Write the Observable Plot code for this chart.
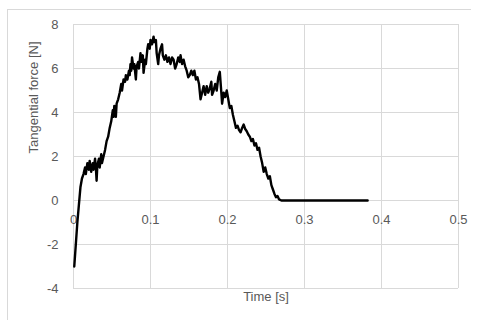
<!DOCTYPE html>
<html>
<head>
<meta charset="utf-8">
<script src="https://cdn.jsdelivr.net/npm/d3@7"></script>
<script src="https://cdn.jsdelivr.net/npm/@observablehq/plot@0.6"></script>
<style>
  body { margin: 0; background: #fff; }
  #wrap { position: relative; width: 477px; height: 320px; }
  #border { position: absolute; left: 7px; top: 9px; width: 463px; height: 320px;
            border-left: 1px solid #d9d9d9; border-top: 1px solid #d9d9d9; pointer-events: none; }
</style>
</head>
<body>
<div id="wrap"><div id="border"></div></div>
<script>
const xTicks = [0, 0.1, 0.2, 0.3, 0.4, 0.5];
const yTicks = [-4, -2, 0, 2, 4, 6, 8];
const xTitle = "Time [s]";
const yTitle = "Tangential force [N]";

const timeS = [
  0.001,0.003,0.005,0.007,0.009,0.011,0.013,0.015,0.016,0.018,0.020,0.021,0.023,0.025,0.026,0.028,0.029,0.030,0.031,0.033,
  0.034,0.036,0.037,0.039,0.041,0.043,0.045,0.047,0.049,0.051,0.052,0.053,0.055,0.056,0.058,0.060,0.062,0.063,0.065,0.067,
  0.068,0.070,0.072,0.073,0.074,0.075,0.076,0.078,0.079,0.081,0.082,0.084,0.085,0.087,0.088,0.090,0.091,0.093,0.094,0.096,
  0.097,0.099,0.100,0.102,0.104,0.105,0.107,0.108,0.110,0.111,0.113,0.115,0.116,0.118,0.120,0.122,0.124,0.126,0.128,0.130,
  0.132,0.134,0.136,0.138,0.139,0.141,0.143,0.145,0.147,0.149,0.151,0.153,0.155,0.157,0.159,0.161,0.163,0.165,0.167,0.169,
  0.171,0.173,0.175,0.177,0.179,0.180,0.182,0.184,0.186,0.188,0.190,0.192,0.193,0.195,0.197,0.199,0.201,0.203,0.205,0.207,
  0.209,0.211,0.213,0.215,0.217,0.219,0.221,0.223,0.225,0.227,0.229,0.231,0.233,0.235,0.237,0.239,0.241,0.243,0.245,0.247,
  0.249,0.251,0.253,0.255,0.257,0.259,0.261,0.263,0.265,0.267,0.270,0.382
];
const forceN = [
  -3.0,-2.0,-1.0,-0.2,0.6,1.0,1.2,1.5,1.2,1.7,1.4,1.8,1.3,1.7,1.4,1.9,1.5,0.9,1.6,1.9,
  1.5,2.1,1.7,2.0,2.3,2.7,2.9,3.3,3.6,4.1,3.8,4.3,3.8,4.4,4.6,4.9,5.3,5.0,5.5,5.4,
  5.7,5.5,5.9,5.7,6.2,5.9,6.5,6.0,6.2,5.5,6.1,6.3,6.0,6.7,6.3,6.6,5.8,6.4,6.2,6.9,
  7.1,6.9,7.3,7.1,7.45,7.2,7.3,6.7,6.2,6.6,6.9,7.1,6.6,6.4,6.6,6.3,6.5,6.2,6.5,6.4,
  6.0,6.2,6.5,6.3,6.6,6.2,6.4,6.1,5.9,5.6,5.7,5.9,5.7,5.9,5.5,5.6,5.3,4.6,4.9,5.2,
  4.8,5.2,4.9,5.1,5.4,4.8,5.0,5.3,5.0,5.6,5.85,4.9,4.4,4.9,4.7,5.0,4.6,4.2,4.3,3.9,
  3.6,3.3,3.4,3.2,3.1,3.3,3.45,3.25,3.15,3.0,2.9,2.7,2.8,2.5,2.6,2.3,2.4,2.0,1.7,1.3,
  1.5,1.2,1.0,1.1,0.7,0.5,0.3,0.15,0.2,0.05,0.0,0.0
];

const data = timeS.map((t, i) => ({t, f: forceN[i]}));
const font = "'Liberation Sans', Arial, sans-serif";
const grey = "#595959";
const grid = "#d9d9d9";

const chart = Plot.plot({
  width: 477,
  height: 320,
  marginLeft: 73,
  marginRight: 19,
  marginTop: 24,
  marginBottom: 32,
  style: {fontFamily: font, fontSize: "13px", color: grey, background: "transparent"},
  x: {domain: [0, 0.5], axis: null},
  y: {domain: [-4, 8]},
  marks: [
    Plot.gridX(xTicks, {stroke: grid, strokeOpacity: 1, strokeWidth: 1}),
    Plot.gridY(yTicks, {stroke: grid, strokeOpacity: 1, strokeWidth: 1}),
    Plot.axisY(yTicks, {tickSize: 0, tickPadding: 15, tickFormat: d => String(d), label: null, fill: grey, fontSize: 13}),
    Plot.text(xTicks, {x: d => d, y: 0, dy: 19, text: d => String(d), fill: grey, fontSize: 13}),
    Plot.line(data, {x: "t", y: "f", stroke: "#000", strokeWidth: 2.4, strokeLinejoin: "round"}),
    Plot.text([xTitle], {frameAnchor: "bottom", dy: 12, text: d => d, fill: grey, fontSize: 13}),
    Plot.text([yTitle], {frameAnchor: "left", dx: -40, dy: -3, rotate: -90, text: d => d, fill: grey, fontSize: 13})
  ]
});
chart.style.position = "absolute";
chart.style.left = "0px";
chart.style.top = "0px";
document.getElementById("wrap").appendChild(chart);
</script>
</body>
</html>
